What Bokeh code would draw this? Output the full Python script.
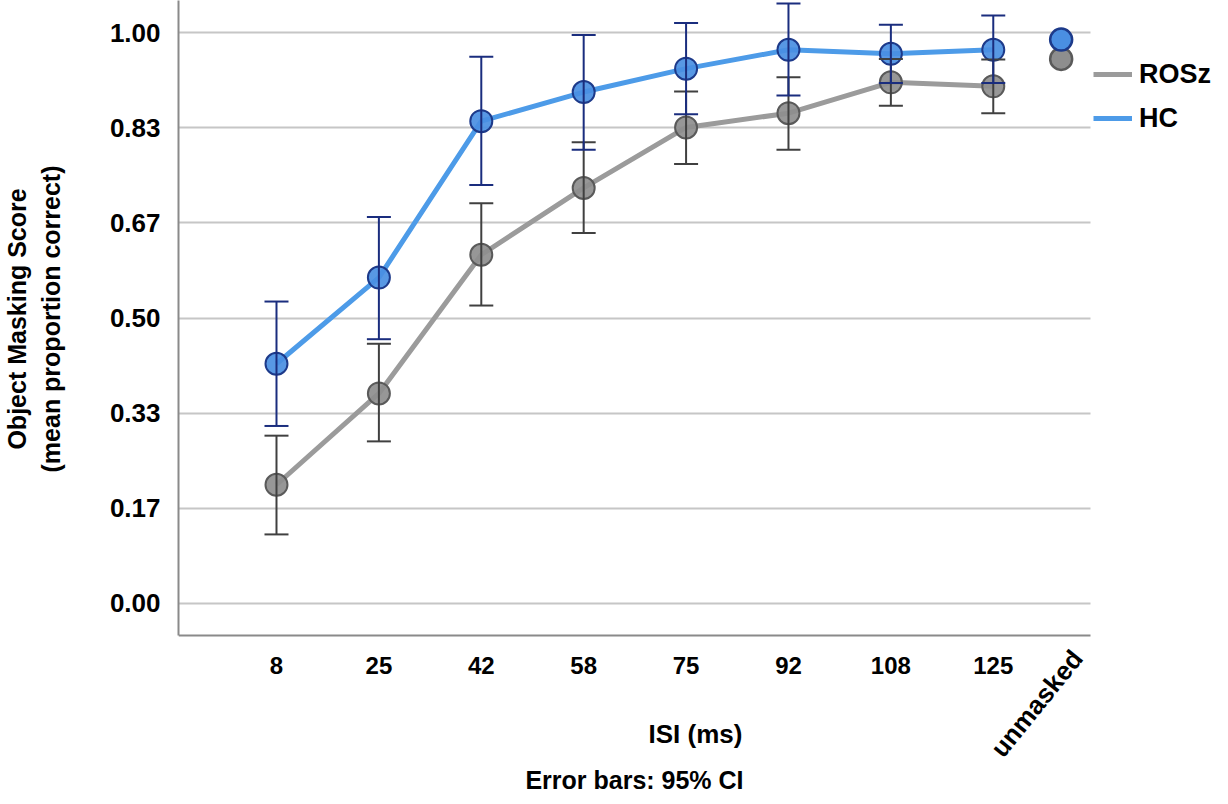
from bokeh.plotting import figure
from bokeh.layouts import column
from bokeh.models import (ColumnDataSource, Whisker, FixedTicker, Range1d, Legend,
                          LegendItem, Label, TeeHead)
from bokeh.transform import dodge
from bokeh.embed import file_html
from bokeh.resources import INLINE

# ---- data ----
categories = ["8", "25", "42", "58", "75", "92", "108", "125", "unmasked"]

hc_mean = [0.420, 0.571, 0.845, 0.896, 0.937, 0.970, 0.963, 0.970, 0.988]
hc_upper = [0.529, 0.677, 0.958, 0.996, 1.017, 1.051, 1.014, 1.030]
hc_lower = [0.311, 0.463, 0.733, 0.795, 0.857, 0.890, 0.912, 0.912]

rosz_mean = [0.208, 0.368, 0.611, 0.728, 0.834, 0.859, 0.913, 0.906, 0.954]
rosz_upper = [0.294, 0.455, 0.701, 0.808, 0.897, 0.922, 0.954, 0.953]
rosz_lower = [0.121, 0.284, 0.522, 0.649, 0.770, 0.795, 0.872, 0.859]

y_tick_values = [0.0, 0.1667, 0.3333, 0.5, 0.6667, 0.8333, 1.0]
y_tick_labels = ["0.00", "0.17", "0.33", "0.50", "0.67", "0.83", "1.00"]

x_title = "ISI (ms)"
y_title = "Object Masking Score\n(mean proportion correct)"
footnote = "Error bars: 95% CI"

FONT = "Liberation Sans"
HC_LINE, HC_FILL, HC_EDGE, HC_ERR = "#4d9be8", "#4a8fe2", "#1d3a8a", "#1a2d7e"
RO_LINE, RO_FILL, RO_EDGE, RO_ERR = "#9b9b9b", "#8e8e8e", "#5a5a5a", "#404040"
AXIS_COL = "#8a8a8a"

# layout constants
W = 1212
LEFT = 178
TOP_H = 637          # height of the plotting figure
BOT_H = 159          # height of the strip holding the category axis texts
Y_AXIS_LO, Y_AXIS_HI = -0.056, 1.0564
Y_FRAME_LO = -0.0596
X_LO, X_HI = -0.957, 7.949        # extent of the category axis
X_FRAME_HI = 9.141                # frame continues under the legend

n_masked = len(categories) - 1
idx = list(range(n_masked))

hc_src = ColumnDataSource(dict(x=idx, y=hc_mean[:n_masked], up=hc_upper, lo=hc_lower))
ro_src = ColumnDataSource(dict(x=idx, y=rosz_mean[:n_masked], up=rosz_upper, lo=rosz_lower))
um_hc = ColumnDataSource(dict(x=[n_masked], y=[hc_mean[-1]]))
um_ro = ColumnDataSource(dict(x=[n_masked], y=[rosz_mean[-1]]))

xr = Range1d(X_LO, X_FRAME_HI)

p = figure(width=W, height=TOP_H, x_range=xr, y_range=Range1d(Y_FRAME_LO, Y_AXIS_HI),
           output_backend="svg", toolbar_location=None,
           min_border_left=LEFT, min_border_right=0,
           min_border_top=0, min_border_bottom=0)
p.outline_line_color = None
p.background_fill_color = "white"
p.xgrid.visible = False
p.ygrid.grid_line_color = "#c6c6c6"
p.ygrid.grid_line_width = 2
try:
    p.ygrid.cross_bounds = (X_LO, X_HI)
except Exception:
    pass


def style_axis(ax):
    ax.axis_line_color = AXIS_COL
    ax.axis_line_width = 2
    ax.major_tick_line_color = None
    ax.minor_tick_line_color = None
    ax.major_label_text_font = FONT
    ax.major_label_text_font_style = "bold"
    ax.major_label_text_color = "black"
    ax.axis_label_text_font = FONT
    ax.axis_label_text_font_style = "bold"
    ax.axis_label_text_color = "black"


style_axis(p.xaxis[0])
style_axis(p.yaxis[0])

p.yaxis.ticker = FixedTicker(ticks=y_tick_values)
p.yaxis.major_label_overrides = {v: l for v, l in zip(y_tick_values, y_tick_labels)}
p.yaxis.bounds = (Y_AXIS_LO, Y_AXIS_HI)
p.yaxis.major_label_text_font_size = "26px"
p.yaxis.major_label_standoff = 12
p.yaxis.axis_label = y_title
p.yaxis.axis_label_text_font_size = "25px"
p.yaxis.axis_label_standoff = 42

# bottom axis line of the plot (labels live in the strip below)
p.xaxis.fixed_location = Y_AXIS_LO
p.xaxis.ticker = FixedTicker(ticks=[])
p.xaxis.bounds = (X_LO, X_HI)

# lines
ro_line = p.line("x", "y", source=ro_src, line_color=RO_LINE, line_width=5)
hc_line = p.line("x", "y", source=hc_src, line_color=HC_LINE, line_width=5)

# markers
p.scatter("x", "y", source=ro_src, size=22, fill_color=RO_FILL, line_color=RO_EDGE,
          line_width=2, fill_alpha=0.92)
p.scatter("x", "y", source=hc_src, size=22, fill_color=HC_FILL, line_color=HC_EDGE,
          line_width=2, fill_alpha=0.92)
p.scatter(dodge("x", -0.337, range=p.x_range), "y", source=um_ro, size=22,
          fill_color=RO_FILL, line_color=RO_EDGE, line_width=2.5)
p.scatter(dodge("x", -0.337, range=p.x_range), "y", source=um_hc, size=22,
          fill_color=HC_FILL, line_color=HC_EDGE, line_width=2.5)

# error bars
for src, col in ((ro_src, RO_ERR), (hc_src, HC_ERR)):
    w = Whisker(source=src, base="x", upper="up", lower="lo", dimension="height",
                line_color=col, line_width=2, level="overlay",
                upper_head=TeeHead(size=24, line_color=col, line_width=2),
                lower_head=TeeHead(size=24, line_color=col, line_width=2))
    p.add_layout(w)

legend = Legend(items=[LegendItem(label="ROSz", renderers=[ro_line]),
                       LegendItem(label="HC", renderers=[hc_line])],
                location=(915, 500), glyph_width=39, glyph_height=38,
                label_height=38, spacing=6, padding=0, margin=0,
                label_standoff=7, label_text_font=FONT,
                label_text_font_style="bold", label_text_font_size="27px",
                label_text_color="black", border_line_color=None,
                background_fill_alpha=0)
p.add_layout(legend)

# ---- strip below the plot: category labels, axis title, footnote ----
q = figure(width=W, height=BOT_H, x_range=xr, y_range=Range1d(-BOT_H, 0),
           output_backend="svg", toolbar_location=None,
           min_border_left=LEFT, min_border_right=0,
           min_border_top=0, min_border_bottom=0)
q.outline_line_color = None
q.background_fill_color = "white"
q.grid.visible = False
q.yaxis.visible = False
style_axis(q.xaxis[0])
q.xaxis.fixed_location = 0
q.xaxis.axis_line_color = None
q.xaxis.ticker = FixedTicker(ticks=idx)
q.xaxis.major_label_overrides = {i: categories[i] for i in idx}
q.xaxis.major_label_text_font_size = "24px"
q.xaxis.major_label_standoff = 13
q.xaxis.axis_label = x_title
q.xaxis.axis_label_text_font_size = "26px"
q.xaxis.axis_label_standoff = 42

q.add_layout(Label(x=n_masked - 0.18, y=-16, text=categories[-1],
                   angle=51, angle_units="deg", text_align="right",
                   text_baseline="middle", text_font=FONT, text_font_style="bold",
                   text_font_size="26px", text_color="black"))
q.add_layout(Label(x=(X_LO + X_HI) / 2, y=-142, text=footnote,
                   text_align="center", text_baseline="middle", text_font=FONT,
                   text_font_style="bold", text_font_size="25px",
                   text_color="black"))

layout = column(p, q, spacing=0)
open("out.html", "w").write(file_html(layout, INLINE))
